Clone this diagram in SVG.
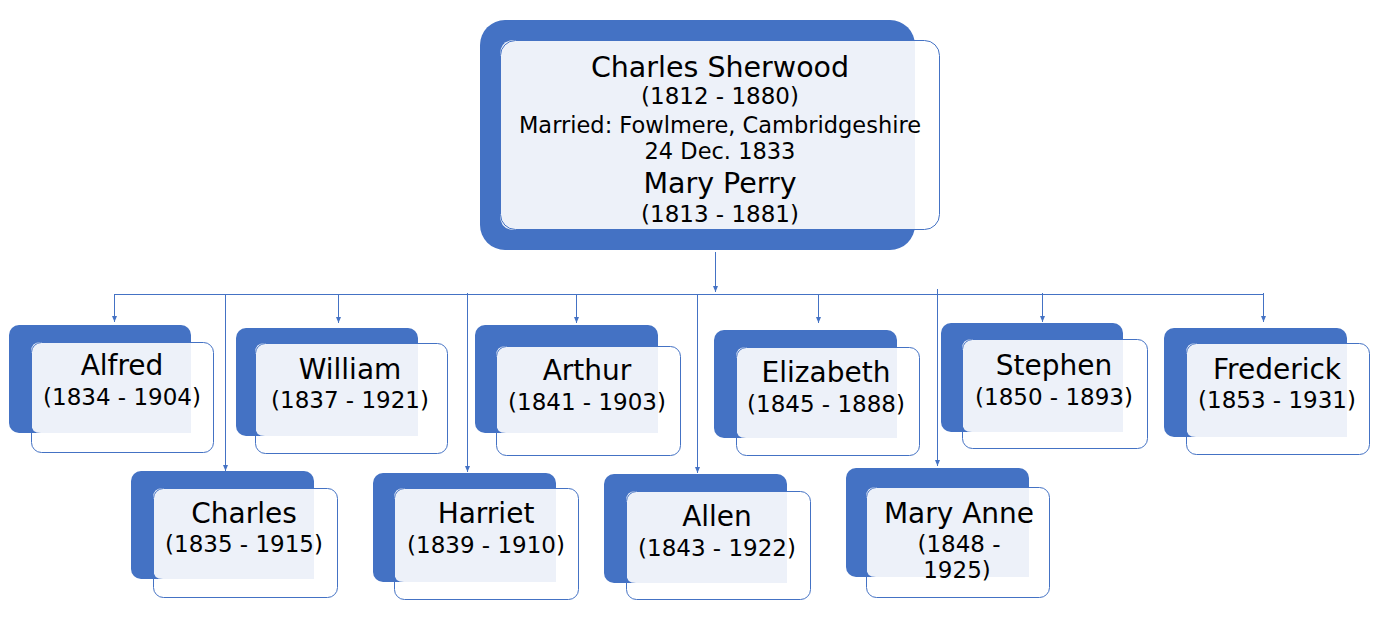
<svg xmlns="http://www.w3.org/2000/svg" width="1388" height="628" viewBox="0 0 1388 628">
<style>
.blue{fill:#4472C4}
.light{fill:#EDF1F9}
.out{fill:none;stroke:#4472C4;stroke-width:1}
.nm{font-family:"DejaVu Sans",Verdana,sans-serif;font-size:28px;fill:#000;text-anchor:middle}
.dt{font-family:"DejaVu Sans",Verdana,sans-serif;font-size:23px;fill:#000;text-anchor:middle}
.mr{font-family:"DejaVu Sans",Verdana,sans-serif;font-size:22.5px;fill:#000;text-anchor:middle}
.big{font-family:"DejaVu Sans",Verdana,sans-serif;font-size:28.5px;fill:#000;text-anchor:middle}
.ln{fill:none;stroke:#4472C4;stroke-width:1}
.arr{fill:none;stroke:#4472C4;stroke-width:1;marker-end:url(#ah)}
</style>
<defs>
<marker id="ah" viewBox="0 0 6 6" refX="6" refY="3" markerWidth="6" markerHeight="6" markerUnits="userSpaceOnUse" orient="auto">
<path d="M0,0.5 L6,3 L0,5.5 z" fill="#4472C4"/>
</marker>
</defs>
<rect width="1388" height="628" fill="#fff"/>

<g id="root">
<rect class="blue" x="480" y="20" width="435" height="230" rx="25"/>
<path class="light" d="M515,40 H915 V230 H515 Q500,230 500,215 V55 Q500,40 515,40 Z"/>
<rect class="out" x="500.5" y="40.5" width="439" height="189" rx="15"/>
<text class="big" x="720" y="77">Charles Sherwood</text>
<text class="dt" x="720" y="104">(1812 - 1880)</text>
<text class="mr" x="720" y="133">Married: Fowlmere, Cambridgeshire</text>
<text class="mr" x="720" y="159">24 Dec. 1833</text>
<text class="big" x="720" y="193">Mary Perry</text>
<text class="dt" x="720" y="222">(1813 - 1881)</text>
</g>

<g id="alfred">
<rect class="blue" x="9" y="325" width="182" height="108" rx="10"/>
<path class="light" d="M41,342 H191 V433 H41 Q31,433 31,423 V352 Q31,342 41,342 Z"/>
<rect class="out" x="31.5" y="342.5" width="182" height="110" rx="10"/>
<text class="nm" x="122" y="375">Alfred</text>
<text class="dt" x="122" y="405">(1834 - 1904)</text>
</g>

<g id="william">
<rect class="blue" x="236" y="328" width="182" height="108" rx="10"/>
<path class="light" d="M265,343 H418 V436 H265 Q255,436 255,426 V353 Q255,343 265,343 Z"/>
<rect class="out" x="255.5" y="343.5" width="192" height="110" rx="10"/>
<text class="nm" x="350" y="379">William</text>
<text class="dt" x="350" y="408">(1837 - 1921)</text>
</g>

<g id="arthur">
<rect class="blue" x="475" y="325" width="183" height="108" rx="10"/>
<path class="light" d="M506,346 H658 V433 H506 Q496,433 496,423 V356 Q496,346 506,346 Z"/>
<rect class="out" x="496.5" y="346.5" width="184" height="109" rx="10"/>
<text class="nm" x="587" y="380">Arthur</text>
<text class="dt" x="587" y="410">(1841 - 1903)</text>
</g>

<g id="elizabeth">
<rect class="blue" x="714" y="330" width="183" height="108" rx="10"/>
<path class="light" d="M746,347 H897 V438 H746 Q736,438 736,428 V357 Q736,347 746,347 Z"/>
<rect class="out" x="736.5" y="347.5" width="183" height="108" rx="10"/>
<text class="nm" x="826" y="382">Elizabeth</text>
<text class="dt" x="826" y="412">(1845 - 1888)</text>
</g>

<g id="stephen">
<rect class="blue" x="941" y="323" width="182" height="109" rx="10"/>
<path class="light" d="M972,339 H1123 V432 H972 Q962,432 962,422 V349 Q962,339 972,339 Z"/>
<rect class="out" x="962.5" y="339.5" width="185" height="109" rx="10"/>
<text class="nm" x="1054" y="375">Stephen</text>
<text class="dt" x="1054" y="405">(1850 - 1893)</text>
</g>

<g id="frederick">
<rect class="blue" x="1164" y="328" width="183" height="109" rx="10"/>
<path class="light" d="M1196,343 H1347 V437 H1196 Q1186,437 1186,427 V353 Q1186,343 1196,343 Z"/>
<rect class="out" x="1186.5" y="343.5" width="183" height="111" rx="10"/>
<text class="nm" x="1277" y="379">Frederick</text>
<text class="dt" x="1277" y="408">(1853 - 1931)</text>
</g>

<g id="charles">
<rect class="blue" x="131" y="471" width="183" height="108" rx="10"/>
<path class="light" d="M163,488 H314 V579 H163 Q153,579 153,569 V498 Q153,488 163,488 Z"/>
<rect class="out" x="153.5" y="488.5" width="184" height="109" rx="10"/>
<text class="nm" x="244" y="523">Charles</text>
<text class="dt" x="244" y="552">(1835 - 1915)</text>
</g>

<g id="harriet">
<rect class="blue" x="373" y="473" width="183" height="109" rx="10"/>
<path class="light" d="M404,488 H556 V582 H404 Q394,582 394,572 V498 Q394,488 404,488 Z"/>
<rect class="out" x="394.5" y="488.5" width="184" height="111" rx="10"/>
<text class="nm" x="486" y="523">Harriet</text>
<text class="dt" x="486" y="553">(1839 - 1910)</text>
</g>

<g id="allen">
<rect class="blue" x="604" y="474" width="183" height="109" rx="10"/>
<path class="light" d="M636,491 H787 V583 H636 Q626,583 626,573 V501 Q626,491 636,491 Z"/>
<rect class="out" x="626.5" y="491.5" width="184" height="108" rx="10"/>
<text class="nm" x="717" y="526">Allen</text>
<text class="dt" x="717" y="556">(1843 - 1922)</text>
</g>

<g id="maryanne">
<rect class="blue" x="846" y="468" width="183" height="109" rx="10"/>
<path class="light" d="M876,487 H1029 V577 H876 Q866,577 866,567 V497 Q866,487 876,487 Z"/>
<rect class="out" x="866.5" y="487.5" width="183" height="110" rx="10"/>
<text class="nm" x="959" y="523">Mary Anne</text>
<text class="dt" x="959" y="552">(1848 -</text>
<text class="dt" x="957" y="578">1925)</text>
</g>

<g id="connectors">
<path class="arr" d="M715.5,252 V292"/>
<path class="ln" d="M114,294.5 H1264"/>
<path class="arr" d="M114.5,294.5 V322"/>
<path class="arr" d="M338.5,294.5 V323"/>
<path class="arr" d="M576.5,294.5 V323"/>
<path class="arr" d="M818.5,294.5 V323"/>
<path class="arr" d="M1042.5,293 V322"/>
<path class="arr" d="M1263.5,293 V322"/>
<path class="arr" d="M225.5,294.5 V471"/>
<path class="arr" d="M467.5,293 V472"/>
<path class="arr" d="M697.5,294.5 V473"/>
<path class="arr" d="M937.5,289 V466"/>
</g>
</svg>
